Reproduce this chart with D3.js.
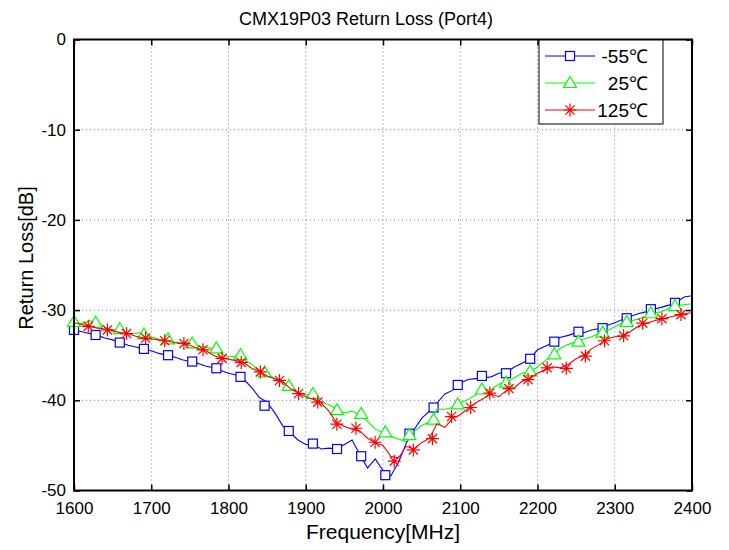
<!DOCTYPE html>
<html>
<head>
<meta charset="utf-8">
<script src="https://cdn.jsdelivr.net/npm/d3@7/dist/d3.min.js"></script>
<style>
body { margin: 0; background: #fff; }
text { font-family: "Liberation Sans", Arial, sans-serif; }
</style>
</head>
<body>
<svg id="chart" width="729" height="550"></svg>
<script>
// frequency grid of the traces, MHz
var freq = d3.range(1600, 2401, 10);

// return loss traces, dB (every 10 MHz)
var rlCold = [-32.2, -32.4, -32.6, -32.8, -33.1, -33.3, -33.6, -33.9, -34.1, -34.3,
  -34.5, -34.8, -35.0, -35.2, -35.5, -35.7, -35.9, -36.2, -36.4, -36.7,
  -37.0, -37.2, -37.7, -38.6, -39.7, -40.2, -41.4, -42.8, -43.6, -44.4,
  -44.9, -44.9, -45.4, -45.3, -45.4, -44.9, -44.4, -46.0, -47.5, -46.5,
  -47.8, -48.4, -46.9, -44.8, -43.3, -42.0, -41.2, -40.3, -39.3, -38.9,
  -38.1, -37.7, -37.6, -37.5, -37.4, -37.0, -36.9, -36.3, -35.9, -35.4,
  -34.4, -34.0, -33.6, -33.0, -32.8, -32.5, -32.5, -32.2, -32.05, -31.7,
  -31.4, -31.05, -30.7, -30.4, -30.2, -29.9, -29.7, -29.45, -29.1, -28.55,
  -28.4];
var rlRoom = [-31.3, -31.5, -31.2, -31.3, -31.9, -32.2, -32.1, -32.6, -32.6, -32.4,
  -33.0, -33.2, -33.3, -33.6, -33.7, -33.5, -34.0, -34.1, -34.3, -34.8,
  -35.2, -35.1, -35.5, -36.0, -36.8, -37.0, -37.6, -37.9, -38.5, -39.1,
  -39.4, -39.3, -40.2, -40.5, -41.0, -41.4, -41.2, -41.6, -42.3, -43.2,
  -43.6, -44.0, -44.3, -44.6, -43.5, -42.8, -42.4, -41.0, -41.0, -40.8,
  -40.3, -39.9, -39.4, -38.9, -38.8, -38.2, -38.0, -37.5, -37.0, -36.8,
  -36.3, -35.6, -35.0, -34.2, -33.8, -33.5, -33.2, -32.95, -32.6, -32.3,
  -31.85, -31.4, -31.2, -31.0, -30.7, -30.35, -30.2, -29.8, -29.5, -29.4,
  -29.3];
var rlHot = [-31.4, -31.6, -31.8, -32.0, -32.1, -32.3, -32.5, -32.6, -32.9, -33.1,
  -33.2, -33.3, -33.4, -33.6, -33.7, -33.9, -34.25, -34.45, -35.0, -35.3,
  -35.45, -35.6, -35.85, -36.45, -36.8, -37.3, -37.6, -37.95, -38.7, -39.2,
  -39.6, -39.9, -40.3, -41.2, -42.5, -42.9, -43.2, -43.4, -44.2, -44.7,
  -45.0, -46.2, -46.4, -45.1, -45.4, -44.7, -44.2, -42.6, -43.0, -42.0,
  -41.6, -40.9, -40.3, -39.8, -39.3, -39.6, -38.9, -38.6, -37.9, -37.6,
  -37.0, -36.6, -36.3, -36.4, -36.0, -35.4, -35.0, -34.3, -33.8, -33.2,
  -32.95, -32.9, -32.4, -31.8, -31.5, -31.2, -31.0, -30.8, -30.6, -30.4,
  -30.3];

// marker points of each trace
var markFreqCold = [1600].concat(d3.range(25).map(function(k) { return 1628 + 31.25 * k; }));
var markCold = [-32.2, -32.76, -33.6, -34.3, -35.0, -35.7, -36.45, -37.4, -40.6, -43.4,
  -44.8, -45.4, -46.2, -48.3, -43.7, -40.8, -38.3, -37.3, -37.0, -35.4,
  -33.5, -32.4, -32.0, -30.9, -29.9, -29.2];
var markFreqRoom = markFreqCold;
var markRoom = [-31.3, -31.4, -32.1, -32.7, -33.25, -33.7, -34.25, -35.0, -36.9, -38.4,
  -39.3, -41.1, -41.5, -43.55, -43.85, -42.15, -40.45, -38.8, -38.05, -36.8,
  -34.9, -33.5, -32.5, -31.3, -30.35, -29.55];
var markFreqHot = d3.range(32).map(function(k) { return 1618.5 + 24.75 * k; });
var markHot = [-31.8, -32.2, -32.6, -33.1, -33.4, -33.7, -34.4, -35.35, -35.8, -36.85,
  -37.8, -39.25, -40.2, -42.65, -43.1, -44.65, -46.75, -45.5, -44.25, -41.8,
  -40.8, -39.2, -38.7, -37.7, -36.4, -36.45, -35.1, -33.4, -32.85, -31.45,
  -30.95, -30.5];

var seriesNames = ['-55\u2103', '25\u2103', '125\u2103'];
var xTicks = d3.range(1600, 2401, 100);
var yTicks = d3.range(-50, 1, 10);

var svg = d3.select('#chart');
var margin = {left: 74, top: 39.5, right: 37, bottom: 59.5};
var w = 729 - margin.left - margin.right;
var h = 550 - margin.top - margin.bottom;

var x = d3.scaleLinear().domain([1600, 2400]).range([0, w]);
var y = d3.scaleLinear().domain([-50, 0]).range([h, 0]);

var g = svg.append('g').attr('transform', 'translate(' + margin.left + ',' + margin.top + ')');

g.append('clipPath').attr('id', 'plotclip')
  .append('rect').attr('width', w).attr('height', h);

// dotted grid
g.selectAll('.gx').data(xTicks.slice(1, -1)).enter().append('line')
  .attr('x1', function(d) { return x(d); }).attr('x2', function(d) { return x(d); })
  .attr('y1', 0).attr('y2', h)
  .attr('stroke', '#6f6fe8').attr('stroke-width', 1).attr('stroke-dasharray', '1,3');
g.selectAll('.gy').data(yTicks.slice(1, -1)).enter().append('line')
  .attr('y1', function(d) { return y(d); }).attr('y2', function(d) { return y(d); })
  .attr('x1', 0).attr('x2', w)
  .attr('stroke', '#6f6fe8').attr('stroke-width', 1).attr('stroke-dasharray', '1,3');

// markers
function drawSquare(sel, color) {
  sel.append('rect').attr('x', -4.5).attr('y', -4.5).attr('width', 9).attr('height', 9)
    .attr('fill', '#fff').attr('stroke', color).attr('stroke-width', 1.2);
}
function drawTriangle(sel, color) {
  sel.append('path').attr('d', 'M0,-6.5L6.5,4.5L-6.5,4.5Z')
    .attr('fill', '#fff').attr('stroke', color).attr('stroke-width', 1.2);
}
function drawStar(sel, color) {
  sel.append('path').attr('d', 'M0,-6.5V6.5M-6.5,0H6.5M-4.6,-4.6L4.6,4.6M-4.6,4.6L4.6,-4.6')
    .attr('fill', 'none').attr('stroke', color).attr('stroke-width', 1.2);
}

var series = [
  {vals: rlCold, mf: markFreqCold, mv: markCold, color: '#0000ff', marker: drawSquare},
  {vals: rlRoom, mf: markFreqRoom, mv: markRoom, color: '#00ff00', marker: drawTriangle},
  {vals: rlHot, mf: markFreqHot, mv: markHot, color: '#ff0000', marker: drawStar}
];

var line = d3.line()
  .x(function(d) { return x(d[0]); })
  .y(function(d) { return y(d[1]); });

series.forEach(function(s) {
  g.append('path')
    .attr('d', line(d3.zip(freq, s.vals)))
    .attr('clip-path', 'url(#plotclip)')
    .attr('fill', 'none').attr('stroke', s.color).attr('stroke-width', 1.1);
  d3.zip(s.mf, s.mv).forEach(function(p) {
    var m = g.append('g').attr('transform', 'translate(' + x(p[0]) + ',' + y(p[1]) + ')');
    s.marker(m, s.color);
  });
});

// axes with inward ticks, plain hyphen minus in the labels
var plain = function(d) { return String(d); };
var xAxis = g.append('g').attr('transform', 'translate(0,' + h + ')')
  .call(d3.axisBottom(x).tickValues(xTicks).tickFormat(plain).tickSizeInner(-6).tickSizeOuter(0).tickPadding(11));
var xAxisTop = g.append('g')
  .call(d3.axisTop(x).tickValues(xTicks).tickSizeInner(-6).tickSizeOuter(0).tickFormat(''));
var yAxis = g.append('g')
  .call(d3.axisLeft(y).tickValues(yTicks).tickFormat(plain).tickSizeInner(-6).tickSizeOuter(0).tickPadding(8));
var yAxisRight = g.append('g').attr('transform', 'translate(' + w + ',0)')
  .call(d3.axisRight(y).tickValues(yTicks).tickSizeInner(-6).tickSizeOuter(0).tickFormat(''));

[xAxis, xAxisTop, yAxis, yAxisRight].forEach(function(a) {
  a.select('.domain').remove();
  a.selectAll('line').attr('stroke', '#000').attr('stroke-width', 1.5);
  a.selectAll('text').attr('fill', '#000').style('font-size', '17px');
});

g.append('rect').attr('width', w).attr('height', h)
  .attr('fill', 'none').attr('stroke', '#000').attr('stroke-width', 2);

// titles
svg.append('text').attr('x', 366).attr('y', 25).attr('text-anchor', 'middle')
  .style('font-size', '18px').text('CMX19P03 Return Loss (Port4)');
svg.append('text').attr('x', margin.left + w / 2).attr('y', 539).attr('text-anchor', 'middle')
  .style('font-size', '21px').text('Frequency[MHz]');
svg.append('text').attr('transform', 'translate(33,258) rotate(-90)').attr('text-anchor', 'middle')
  .style('font-size', '20px').text('Return Loss[dB]');

// legend
var leg = svg.append('g');
leg.append('rect').attr('x', 539).attr('y', 40).attr('width', 124).attr('height', 84)
  .attr('fill', '#fff').attr('stroke', '#000').attr('stroke-width', 1);
series.forEach(function(s, i) {
  var ly = 56 + i * 27;
  leg.append('line').attr('x1', 545).attr('x2', 595).attr('y1', ly).attr('y2', ly)
    .attr('stroke', s.color).attr('stroke-width', 1.1);
  s.marker(leg.append('g').attr('transform', 'translate(570,' + ly + ')'), s.color);
  leg.append('text').attr('x', 648).attr('y', ly + 7).attr('text-anchor', 'end')
    .style('font-size', '19px').text(seriesNames[i]);
});
</script>
</body>
</html>
